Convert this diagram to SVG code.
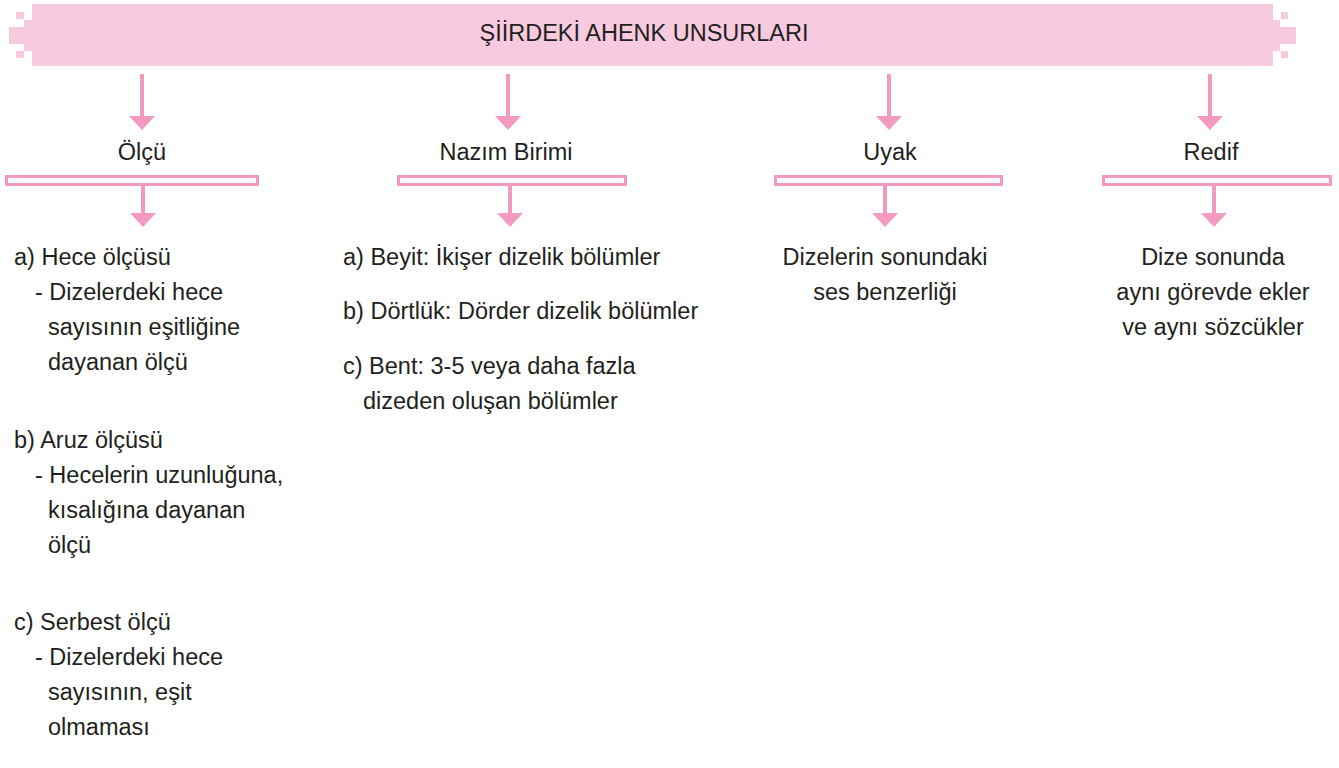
<svg xmlns="http://www.w3.org/2000/svg" width="1339" height="768" viewBox="0 0 1339 768">
<defs>
<style>
.banner{fill:#f8cadf;}
.bar{fill:#ffffff;stroke:#f49ac1;stroke-width:3;}
.line{stroke:#f49ac1;stroke-width:4;fill:none;}
.head{fill:#f49ac1;}
text{font-family:"Liberation Sans",Arial,sans-serif;font-size:23.5px;fill:#231f20;}
.c{text-anchor:middle;}
</style>
</defs>
<rect width="1339" height="768" fill="#ffffff"/>
<g id="title">
<rect class="banner" x="32" y="4" width="1241" height="62"/>
<rect class="banner" x="24" y="20" width="9" height="31"/>
<rect class="banner" x="9" y="27" width="16" height="17"/>
<rect class="banner" x="16" y="12" width="8" height="7"/>
<rect class="banner" x="16" y="51" width="8" height="7"/>
<rect class="banner" x="1272" y="20" width="8" height="31"/>
<rect class="banner" x="1279" y="27" width="17" height="17"/>
<rect class="banner" x="1281" y="12" width="7" height="7"/>
<rect class="banner" x="1281" y="51" width="7" height="7"/>
<text x="644" y="41" class="c">ŞİİRDEKİ AHENK UNSURLARI</text>
</g>
<g id="connectors">
<line class="line" x1="142" y1="74" x2="142" y2="118"/><polygon class="head" points="129,116 155,116 142,130"/>
<line class="line" x1="508" y1="74" x2="508" y2="118"/><polygon class="head" points="495,116 521,116 508,130"/>
<line class="line" x1="889" y1="74" x2="889" y2="118"/><polygon class="head" points="876,116 902,116 889,130"/>
<line class="line" x1="1210" y1="74" x2="1210" y2="118"/><polygon class="head" points="1197,116 1223,116 1210,130"/>
<line class="line" x1="143" y1="186" x2="143" y2="215"/><polygon class="head" points="130,213 156,213 143,227"/>
<line class="line" x1="510" y1="186" x2="510" y2="215"/><polygon class="head" points="497,213 523,213 510,227"/>
<line class="line" x1="885" y1="186" x2="885" y2="215"/><polygon class="head" points="872,213 898,213 885,227"/>
<line class="line" x1="1214" y1="186" x2="1214" y2="215"/><polygon class="head" points="1201,213 1227,213 1214,227"/>
</g>
<g id="olcu">
<text x="142" y="160" class="c">Ölçü</text>
<rect class="bar" x="6.5" y="176.5" width="251" height="8"/>
</g>
<g id="nazim-birimi">
<text x="506" y="160" class="c">Nazım Birimi</text>
<rect class="bar" x="398.5" y="176.5" width="227" height="8"/>
</g>
<g id="uyak">
<text x="890" y="160" class="c">Uyak</text>
<rect class="bar" x="775.5" y="176.5" width="226" height="8"/>
</g>
<g id="redif">
<text x="1211" y="160" class="c">Redif</text>
<rect class="bar" x="1103.5" y="176.5" width="227" height="8"/>
</g>
<g id="olcu-list">
<text x="14" y="265">a) Hece ölçüsü</text>
<text x="35" y="300">- Dizelerdeki hece</text>
<text x="48" y="335">sayısının eşitliğine</text>
<text x="48" y="370">dayanan ölçü</text>
<text x="14" y="448">b) Aruz ölçüsü</text>
<text x="35" y="483">- Hecelerin uzunluğuna,</text>
<text x="48" y="518">kısalığına dayanan</text>
<text x="48" y="553">ölçü</text>
<text x="14" y="630">c) Serbest ölçü</text>
<text x="35" y="665">- Dizelerdeki hece</text>
<text x="48" y="700">sayısının, eşit</text>
<text x="48" y="735">olmaması</text>
</g>
<g id="nazim-list">
<text x="343" y="265">a) Beyit: İkişer dizelik bölümler</text>
<text x="343" y="319">b) Dörtlük: Dörder dizelik bölümler</text>
<text x="343" y="374">c) Bent: 3-5 veya daha fazla</text>
<text x="363" y="409">dizeden oluşan bölümler</text>
</g>
<g id="uyak-text">
<text x="885" y="265" class="c">Dizelerin sonundaki</text>
<text x="885" y="300" class="c">ses benzerliği</text>
</g>
<g id="redif-text">
<text x="1213" y="265" class="c">Dize sonunda</text>
<text x="1213" y="300" class="c">aynı görevde ekler</text>
<text x="1213" y="335" class="c">ve aynı sözcükler</text>
</g>
</svg>
